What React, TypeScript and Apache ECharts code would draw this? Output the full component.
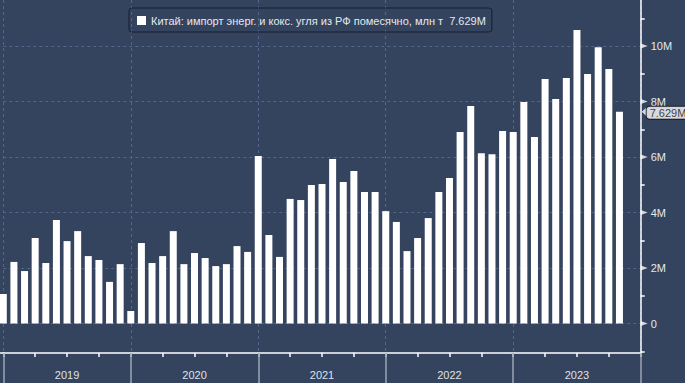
import { useEffect, useRef } from 'react';
import * as echarts from 'echarts';

const years = ['2019', '2020', '2021', '2022', '2023'];
const seriesName = 'Китай: импорт энерг. и кокс. угля из РФ помесячно, млн т';
// monthly values, million tonnes (Jan 2019 ... Nov 2023)
const values = [
  1.06, 2.22, 1.89, 3.08, 2.18, 3.73, 2.97, 3.33, 2.43, 2.29, 1.5, 2.14,
  0.45, 2.9, 2.18, 2.43, 3.33, 2.14, 2.54, 2.36, 2.07, 2.14, 2.79, 2.58,
  6.04, 3.19, 2.4, 4.49, 4.45, 4.99, 5.03, 5.93, 5.1, 5.5, 4.74, 4.74,
  4.05, 3.66, 2.61, 3.08, 3.8, 4.74, 5.24, 6.9, 7.84, 6.14, 6.1, 6.94,
  6.9, 7.98, 6.72, 8.81, 8.09, 8.85, 10.58, 8.99, 9.96, 9.17, 7.629,
];
const yLabelValues = [0, 2, 4, 6, 8, 10];
const yMinorValues = [-1, 1, 3, 5, 7, 9, 11];
const yMin = -1.063;
const yMax = 11.66;
const xMonths = 60;

const BG = '#34435e';
const GRID = '#52668b';
const FONT = 'Liberation Sans';

export default function App() {
  const ref = useRef<HTMLDivElement>(null);
  useEffect(() => {
    if (!ref.current) return;
    const chart = echarts.init(ref.current, null, { renderer: 'svg' });
    const last = values[values.length - 1];
    const option: any = {
      animation: false,
      backgroundColor: BG,
      textStyle: { fontFamily: FONT },
      legend: {
        data: [seriesName],
        left: 129,
        top: 8,
        padding: [7, 6, 6, 8],
        borderColor: '#161e2e',
        borderWidth: 1,
        borderRadius: 3,
        icon: 'rect',
        itemWidth: 9,
        itemHeight: 9,
        selectedMode: false,
        formatter: (n: string) => `${n}  ${last.toFixed(3)}M`,
        textStyle: { color: '#e6e8ec', fontSize: 11, fontFamily: FONT },
      },
      grid: { left: 3.3, right: 44.3, top: 0, bottom: 30 },
      xAxis: [
        {
          type: 'value',
          min: 0,
          max: xMonths,
          interval: 3,
          axisLine: { show: true, onZero: false, lineStyle: { color: '#ffffff', width: 1.5 } },
          axisTick: { show: true, length: 4, lineStyle: { color: '#ffffff', width: 1.5 } },
          axisLabel: { show: false },
          splitLine: { show: false },
        },
        {
          type: 'category',
          data: years,
          boundaryGap: true,
          position: 'bottom',
          axisLine: { show: false, onZero: false },
          axisTick: { show: true, length: 30, lineStyle: { color: '#9ca4b6', width: 1.5 } },
          axisLabel: { color: '#dfe2e8', fontSize: 11, margin: 16, fontFamily: FONT },
          splitLine: { show: true, lineStyle: { color: GRID, type: [3, 3], width: 1 } },
        },
      ],
      yAxis: [
        {
          type: 'value',
          position: 'right',
          min: yMin,
          max: yMax,
          axisLine: { show: true, onZero: false, lineStyle: { color: '#ffffff', width: 1.5 } },
          axisTick: { show: false, customValues: yLabelValues },
          axisLabel: {
            customValues: yLabelValues,
            color: '#e6e8ec',
            fontSize: 11,
            margin: 10,
            fontFamily: FONT,
            formatter: (v: number) => (v === 0 ? '0' : `${v}M`),
          },
          splitLine: { show: true, lineStyle: { color: GRID, type: [3, 3], width: 1 } },
        },
        {
          type: 'value',
          position: 'right',
          min: yMin,
          max: yMax,
          axisLine: { show: false, onZero: false },
          axisTick: { show: true, customValues: yMinorValues, length: 4, lineStyle: { color: '#ffffff', width: 1.5 } },
          axisLabel: { show: false },
          splitLine: { show: false },
        },
      ],
      series: [
        {
          name: seriesName,
          type: 'bar',
          xAxisIndex: 0,
          yAxisIndex: 0,
          barWidth: 7,
          clip: false,
          itemStyle: { color: '#ffffff' },
          data: values.map((v, i) => [i, v]),
        },
        {
          type: 'scatter',
          xAxisIndex: 0,
          yAxisIndex: 0,
          silent: true,
          clip: false,
          symbol: 'triangle',
          symbolRotate: -90,
          symbolSize: [5, 7],
          symbolOffset: [3.5, 0],
          itemStyle: { color: '#ffffff' },
          data: yLabelValues.map((v) => [xMonths, v]),
          z: 5,
        },
        {
          type: 'scatter',
          xAxisIndex: 0,
          yAxisIndex: 0,
          silent: true,
          clip: false,
          symbol: 'triangle',
          symbolRotate: 90,
          symbolSize: [9, 5],
          symbolOffset: [3.5, 0],
          itemStyle: { color: '#ffffff', borderColor: '#111111', borderWidth: 0 },
          label: {
            show: true,
            position: 'right',
            distance: 0,
            offset: [0, 1],
            formatter: () => `${last.toFixed(3)}M`,
            color: '#111111',
            fontSize: 11,
            lineHeight: 12,
            fontFamily: FONT,
            backgroundColor: '#ffffff',
            borderColor: '#111111',
            borderWidth: 1,
            borderRadius: 3,
            padding: [0, 3, 0, 3],
          },
          data: [[xMonths, last]],
          z: 6,
        },
      ],
      graphic: [
        {
          type: 'line',
          shape: { x1: 0, y1: 353, x2: 4, y2: 353 },
          style: { stroke: '#ffffff', lineWidth: 1.5 },
        },
      ],
    };
    chart.setOption(option);
    return () => chart.dispose();
  }, []);
  return (
    <div
      ref={ref}
      style={{ position: 'fixed', left: 0, top: 0, width: 685, height: 383 }}
    />
  );
}
